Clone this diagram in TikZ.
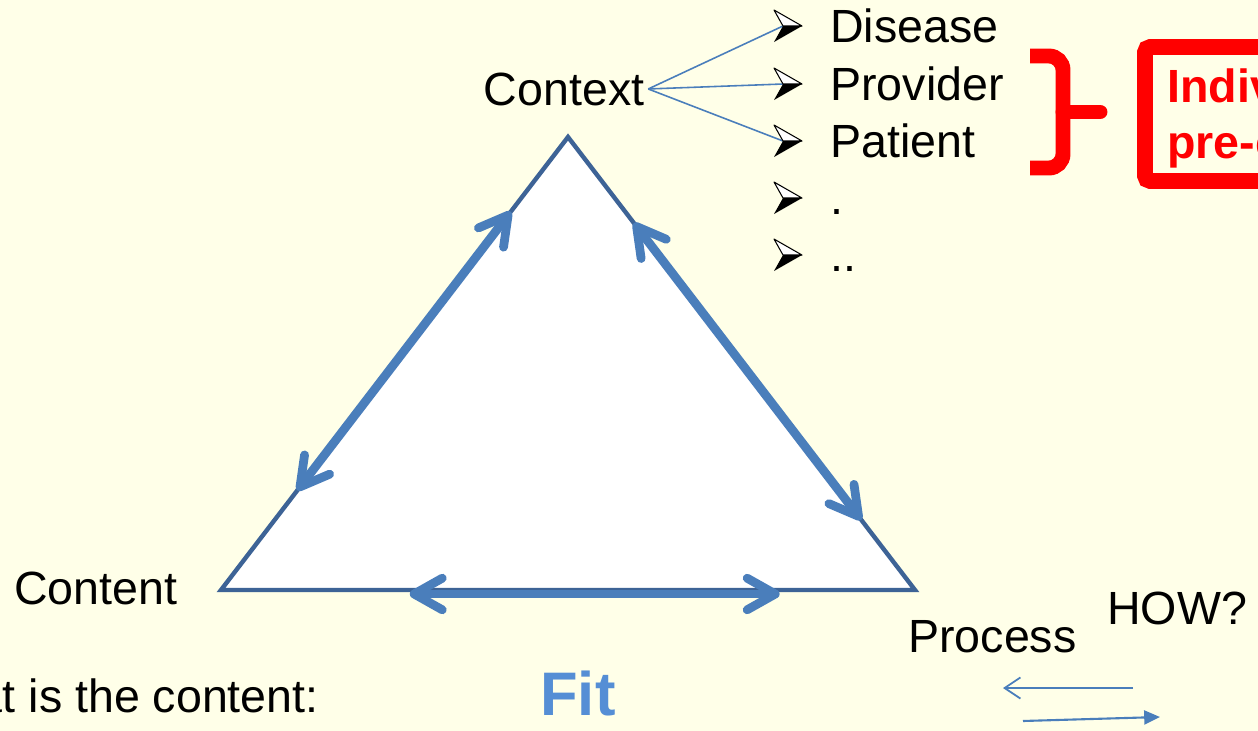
\documentclass[tikz,border=0pt]{standalone}
\usepackage{fontspec}
\setmainfont{Liberation Sans}
\usetikzlibrary{calc,arrows.meta}
\definecolor{paper}{HTML}{FFFFE8}
\definecolor{edgeblue}{HTML}{3D6396}
\definecolor{arrowblue}{HTML}{4A7EBB}
\definecolor{fitblue}{HTML}{558ED5}
% list bullet: half open, half black arrow head, notch at #1
\def\arrowbullet(#1){\draw[fill=white,line width=0.6pt,line join=round] ($(#1)+(-9,-16)$) -- ($(#1)+(19,0)$) -- (#1) -- cycle;
	\fill ($(#1)+(-9,16)$) -- ($(#1)+(19,0)$) -- (#1) -- cycle;}

\begin{document}
\begin{tikzpicture}[x=0.2mm,y=-0.2mm,
	word/.style={font=\fontsize{26.5}{32}\selectfont, inner sep=0pt, anchor=base west},
	side/.style={arrowblue, line width=5pt, {Straight Barb[round,length=16pt,width=18pt]}-{Straight Barb[round,length=16pt,width=18pt]}}]
	%%%%% START %%%%%
	
	\fill[paper] (0,0) rectangle (1258,731);
	\useasboundingbox (0,0) rectangle (1258,731);
	
	% the triangle
	\coordinate (top) at (568,137);
	\coordinate (left) at (221,590);
	\coordinate (right) at (915,590);
	\draw[edgeblue, line width=2.5pt, fill=white] (top) -- (left) -- (right) -- cycle;
	
	\draw[side] ($(left)!0.22!(top)$) -- ($(left)!0.835!(top)$);
	\draw[side] ($(top)!0.19!(right)$) -- ($(top)!0.845!(right)$);
	\draw[side] ($(left)!0.272!(right)+(0,4)$) -- ($(left)!0.805!(right)+(0,4)$);
	
	% corner words
	\node[word] (content) at (14,604) {Content};
	\node[word] (process) at (908,652) {Process};
	\node[word] (how) at (1107,624) {HOW?};
	\node[word, inner xsep=2pt] (context) at (480,105) {Context};
	\node[word, anchor=base east] (what) at (319,712) {What is the content:};
	\node[word, font=\bfseries\fontsize{35}{42}\selectfont, text=fitblue] (fit) at (540,715) {Fit};
	
	% list of context items
	\foreach \n/\y/\t in {dis/26/Disease, pro/84/Provider, pat/141/Patient, dot/198/., dots/255/..} {
		\coordinate (\n) at (783,\y);
		\node[word] (\n-text) at (830,\y+16) {\t};
	}
	\foreach \n in {dis,pro,pat}
		\draw[arrowblue, line width=0.9pt] (context.east) -- (\n);
	\foreach \n in {dis,pro,pat,dot,dots} {\arrowbullet(\n)}
	
	% red brace and box
	\draw[red, line width=8.5pt, rounded corners=8pt] (1030,56) -- (1063,56) -- (1063,168) -- (1030,168);
	\draw[red, line width=8.5pt, line cap=round] (1063,112) -- (1100,112);
	\draw[red, line width=9pt, rounded corners=3pt] (1145,47) rectangle (1330,181);
	\node[word, font=\bfseries\fontsize{26.5}{32}\selectfont, text=red] (indiv) at (1167,102) {Individual};
	\node[word, font=\bfseries\fontsize{26.5}{32}\selectfont, text=red] (pre) at (1167,158) {pre-conditions};
	
	% small arrows
	\coordinate (back-a) at (1133,688);
	\coordinate (back-b) at (1003,688);
	\draw[arrowblue, line width=1pt, -{Straight Barb[length=9pt,width=12pt]}] (back-a) -- (back-b);
	\coordinate (fwd-a) at (1023,721);
	\coordinate (fwd-b) at (1160,717);
	\draw[arrowblue, line width=1.2pt, -{Triangle[length=9pt,width=8pt]}] (fwd-a) -- (fwd-b);
	
	%%%%% END %%%%%
\end{tikzpicture}
\end{document}
